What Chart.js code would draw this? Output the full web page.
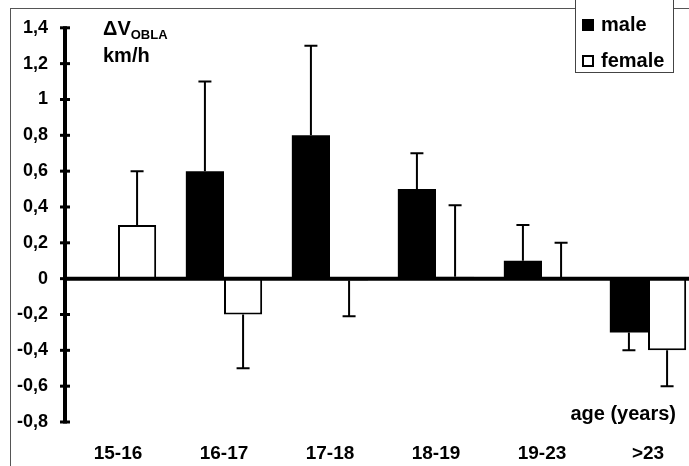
<!DOCTYPE html>
<html>
<head>
<meta charset="utf-8">
<script src="https://cdn.jsdelivr.net/npm/chart.js@4/dist/chart.umd.min.js"></script>
<style>
  html, body { margin: 0; padding: 0; overflow: hidden; background: #fff; }
  #wrap { width: 712px; height: 466px; position: relative; }
</style>
</head>
<body>
<div id="wrap"><canvas id="grafico"></canvas></div>
<script>
// datos
const categorias = ["15-16", "16-17", "17-18", "18-19", "19-23", ">23"];
const male = [null, 0.6, 0.8, 0.5, 0.1, -0.3];
const female = [0.3, -0.2, -0.01, 0.01, 0, -0.4];
// barras de error (con signo: hacia donde va la línea)
const maleErr = [null, 0.5, 0.5, 0.2, 0.2, -0.1];
const femaleErr = [0.3, -0.3, -0.2, 0.4, 0.2, -0.2];
const yTicks = [1.4, 1.2, 1, 0.8, 0.6, 0.4, 0.2, 0, -0.2, -0.4, -0.6, -0.8];
const yTickLabels = ["1,4", "1,2", "1", "0,8", "0,6", "0,4", "0,2", "0", "-0,2", "-0,4", "-0,6", "-0,8"];

const FONT = "'Liberation Sans', Arial, sans-serif";

const decor = {
    id: "decor",
    afterDatasetsDraw(chart) {
        const ctx = chart.ctx;
        const y = chart.scales.y;
        const area = chart.chartArea;
        ctx.save();
        ctx.strokeStyle = "#000";
        ctx.fillStyle = "#000";

        // línea del cero
        const y0 = y.getPixelForValue(0);
        ctx.lineWidth = 4;
        ctx.beginPath();
        ctx.moveTo(area.left, y0);
        ctx.lineTo(area.right, y0);
        ctx.stroke();

        // eje y con marcas
        ctx.beginPath();
        ctx.moveTo(area.left, y.getPixelForValue(yTicks[0]) - 1.5);
        ctx.lineTo(area.left, y.getPixelForValue(yTicks[yTicks.length - 1]) + 1.5);
        ctx.stroke();
        ctx.lineWidth = 3;
        yTicks.forEach(v => {
            const py = y.getPixelForValue(v);
            ctx.beginPath();
            ctx.moveTo(area.left - 5, py);
            ctx.lineTo(area.left + 5, py);
            ctx.stroke();
        });

        // barras de error
        ctx.lineWidth = 2;
        [[0, male, maleErr], [1, female, femaleErr]].forEach(([ds, vals, errs]) => {
            const meta = chart.getDatasetMeta(ds);
            meta.data.forEach((bar, i) => {
                if (vals[i] === null || errs[i] === null) return;
                const a = y.getPixelForValue(vals[i]);
                const b = y.getPixelForValue(vals[i] + errs[i]);
                ctx.beginPath();
                ctx.moveTo(bar.x, a);
                ctx.lineTo(bar.x, b);
                ctx.moveTo(bar.x - 6.5, b);
                ctx.lineTo(bar.x + 6.5, b);
                ctx.stroke();
            });
        });

        // marco exterior
        ctx.lineWidth = 1;
        ctx.strokeStyle = "#555";
        ctx.strokeRect(10.5, 8.5, 800, 600);

        // leyenda
        ctx.fillStyle = "#fff";
        ctx.fillRect(575.5, -5, 98, 77.5);
        ctx.strokeStyle = "#444";
        ctx.strokeRect(575.5, -5, 98, 77.5);
        ctx.fillStyle = "#000";
        ctx.fillRect(582, 19, 12, 12);
        ctx.strokeStyle = "#000";
        ctx.lineWidth = 2;
        ctx.strokeRect(583, 56, 10, 10);

        ctx.font = "bold 20px " + FONT;
        ctx.textBaseline = "middle";
        ctx.textAlign = "left";
        ctx.fillText("male", 601, 25);
        ctx.fillText("female", 601, 61);

        // título del eje y
        ctx.textBaseline = "alphabetic";
        ctx.fillText("\u0394V", 103, 35);
        const w = ctx.measureText("\u0394V").width;
        ctx.font = "bold 13px " + FONT;
        ctx.fillText("OBLA", 103 + w, 39);
        ctx.font = "bold 20px " + FONT;
        ctx.fillText("km/h", 103, 62);

        // título del eje x
        ctx.textAlign = "right";
        ctx.textBaseline = "middle";
        ctx.fillText("age (years)", 676, 414);
        ctx.restore();
    }
};

new Chart(document.getElementById("grafico"), {
    type: "bar",
    data: {
        labels: categorias,
        datasets: [
            {
                label: "male",
                data: male,
                backgroundColor: "#000",
                borderColor: "#000",
                borderWidth: 0,
                categoryPercentage: 0.72,
                barPercentage: 1
            },
            {
                label: "female",
                data: female,
                backgroundColor: "#fff",
                borderColor: "#000",
                borderWidth: 2,
                categoryPercentage: 0.72,
                barPercentage: 1
            }
        ]
    },
    options: {
        responsive: true,
        maintainAspectRatio: false,
        animation: false,
        layout: { padding: { top: 25, left: 0, right: 11, bottom: 0 } },
        plugins: {
            legend: { display: false },
            tooltip: { enabled: false }
        },
        scales: {
            x: {
                grid: { display: false, drawTicks: false },
                border: { display: false },
                ticks: {
                    color: "#000",
                    font: { family: FONT, size: 19, weight: "bold" },
                    padding: 20,
                    maxRotation: 0
                },
                afterFit(s) { s.height = 44; }
            },
            y: {
                min: -0.8,
                max: 1.4,
                grid: { display: false, drawTicks: false },
                border: { display: false },
                afterBuildTicks(s) {
                    s.ticks = yTicks.map(v => ({ value: v }));
                },
                ticks: {
                    color: "#000",
                    font: { family: FONT, size: 18, weight: "bold" },
                    padding: 17,
                    callback: (v) => {
                        const i = yTicks.findIndex(t => Math.abs(t - v) < 1e-9);
                        return i >= 0 ? yTickLabels[i] : "";
                    }
                },
                afterFit(s) { s.width = 65; }
            }
        }
    },
    plugins: [decor]
});
</script>
</body>
</html>
